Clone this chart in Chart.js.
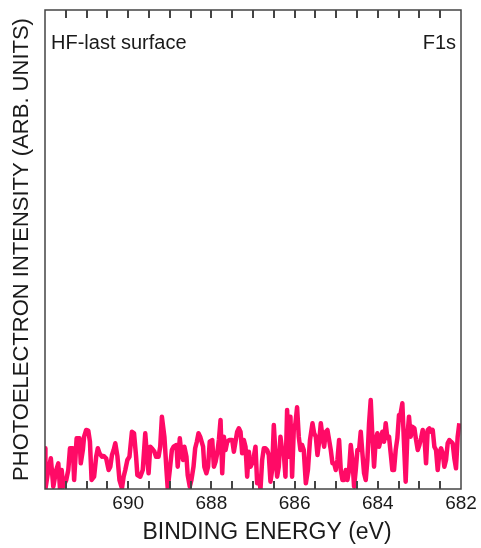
<!DOCTYPE html>
<html>
<head>
<meta charset="utf-8">
<script src="https://cdn.jsdelivr.net/npm/chart.js@4.4.1/dist/chart.umd.min.js"></script>
<style>
    html, body { margin: 0; padding: 0; background: #fff; }
    #wrap { width: 481px; height: 548px; }
</style>
</head>
<body>
<div id="wrap"><canvas id="xps-chart"></canvas></div>
<script>
// ===== Data (F1s region, HF-last surface) =====
const bindingEnergy = [
    692.00, 691.99, 691.92, 691.86, 691.80, 691.73, 691.68, 691.64, 691.60, 691.56,
    691.49, 691.44, 691.40, 691.33, 691.30, 691.24, 691.17, 691.14, 691.09, 691.06,
    691.01, 690.96, 690.92, 690.88, 690.82, 690.77, 690.73, 690.69, 690.63, 690.59,
    690.53, 690.47, 690.43, 690.39, 690.35, 690.31, 690.26, 690.21, 690.15, 690.11,
    690.07, 690.02, 689.97, 689.91, 689.86, 689.81, 689.78, 689.71, 689.65, 689.59,
    689.55, 689.51, 689.47, 689.43, 689.37, 689.33, 689.27, 689.23, 689.19, 689.13,
    689.08, 689.05, 689.00, 688.95, 688.91, 688.84, 688.81, 688.76, 688.73, 688.68,
    688.65, 688.60, 688.57, 688.52, 688.48, 688.43, 688.39, 688.35, 688.31, 688.27,
    688.20, 688.17, 688.12, 688.08, 688.04, 687.98, 687.94, 687.90, 687.86, 687.82,
    687.78, 687.74, 687.70, 687.66, 687.62, 687.57, 687.50, 687.46, 687.42, 687.38,
    687.34, 687.30, 687.26, 687.22, 687.18, 687.14, 687.10, 687.06, 687.02, 686.98,
    686.94, 686.90, 686.86, 686.82, 686.78, 686.74, 686.70, 686.66, 686.62, 686.58,
    686.54, 686.50, 686.46, 686.42, 686.38, 686.34, 686.30, 686.26, 686.22, 686.18,
    686.14, 686.10, 686.06, 686.02, 685.98, 685.94, 685.90, 685.86, 685.82, 685.78,
    685.73, 685.68, 685.63, 685.57, 685.53, 685.49, 685.45, 685.41, 685.37, 685.33,
    685.29, 685.25, 685.21, 685.17, 685.13, 685.09, 685.05, 685.01, 684.97, 684.93,
    684.89, 684.85, 684.81, 684.77, 684.73, 684.69, 684.65, 684.61, 684.57, 684.53,
    684.49, 684.45, 684.41, 684.37, 684.33, 684.29, 684.25, 684.21, 684.17, 684.13,
    684.09, 684.05, 684.01, 683.97, 683.93, 683.89, 683.85, 683.81, 683.77, 683.73,
    683.69, 683.65, 683.61, 683.57, 683.53, 683.49, 683.45, 683.41, 683.37, 683.33,
    683.29, 683.25, 683.21, 683.17, 683.12, 683.08, 683.04, 683.00, 682.96, 682.92,
    682.88, 682.84, 682.80, 682.76, 682.72, 682.68, 682.64, 682.60, 682.56, 682.52,
    682.48, 682.44, 682.40, 682.36, 682.32, 682.28, 682.24, 682.20, 682.16, 682.12,
    682.08, 682.04
];

// arb. units
const intensity = [
    40.7, 0, 19, 30.7, 2.3, 19, 25.7, 0.7, 19, 2.3,
    9, 19, 40.7, 40.7, 9, 50.7, 50.7, 25.7, 39, 52.3,
    59, 58.3, 47.3, 9, 12.3, 32.3, 40.7, 35.7, 32.3, 33,
    30.7, 19, 22.3, 34, 39, 45.7, 33, 9, 0.7, 12.3,
    19, 29, 32.3, 57.3, 55.7, 32.3, 14, 12.3, 19, 55.7,
    34, 15.7, 42.3, 40.7, 37.3, 32.3, 32.3, 42.3, 72.3, 52.3,
    19, 0.7, 19, 39, 42.3, 44, 22.3, 50.7, 39, 29,
    42.3, 32.3, 14, 2.3, 9, 22.3, 40.7, 47.3, 55.7, 52.3,
    42.3, 22.3, 15.7, 22.3, 47.3, 49, 22.3, 27.3, 35.7, 49,
    69, 15.7, 52.3, 39, 47.3, 49, 49, 37.3, 47.3, 57.3,
    60.7, 57.3, 35.7, 49, 42.3, 12.3, 37.3, 22.3, 25.7, 32.3,
    42.3, 5.7, 12.3, 0, 29, 40.7, 40.7, 39, 34, 7.3,
    19, 64, 35.7, 12.3, 22.3, 52.3, 39, 35.7, 12.3, 79,
    32.3, 72.3, 12.3, 59, 65.7, 81.7, 52.3, 39, 44, 39,
    5.7, 19, 49, 65.7, 55.7, 52.3, 34, 47.3, 65.7, 52.3,
    42.3, 57.3, 59, 49, 39, 25.7, 25.7, 19, 29, 49,
    19, 9, 9, 19, 9, 19, 44, 29, 2.3, 19,
    39, 39, 57.3, 35.7, 15.7, 9, 29, 65.7, 89, 52.3,
    22.3, 49, 55.7, 42.3, 49, 57.3, 47.3, 65.7, 50.7, 52.3,
    35.7, 19, 19, 39, 50.7, 74, 75.7, 85.7, 45.7, 7.3,
    52.3, 72.3, 52.3, 62.3, 60.7, 49, 39, 44, 50.7, 59,
    52.3, 25.7, 59, 60.7, 57.3, 59, 42.3, 39, 19, 35.7,
    40.7, 35.7, 22.3, 29, 45.7, 49, 47.3, 45.7, 30.7, 20.7,
    52.3, 65.7
];

const labelledEnergies = [690, 688, 686, 684, 682];
const cornerLabels = { left: 'HF-last surface', right: 'F1s' };
const xTitle = 'BINDING ENERGY (eV)';

const FONT = 'Liberation Sans, Arial, Helvetica, sans-serif';
const FRAME_COLOR = '#444444';
const TEXT_COLOR = '#1a1a1a';
const TICK_STEP = 0.5;

// inward tick marks every 0.5 eV on bottom and top edges
const tickPlugin = {
    id: 'innerTicks',
    afterDatasetsDraw(chart) {
        const { ctx, chartArea: a } = chart;
        const xs = chart.scales.x;
        ctx.save();
        ctx.globalAlpha = 1;
        ctx.globalCompositeOperation = 'source-over';
        ctx.setTransform(1, 0, 0, 1, 0, 0);
        ctx.fillStyle = FRAME_COLOR;
        xs.ticks.forEach((t, i) => {
            const px = Math.round(xs.getPixelForTick(i));
            if (px <= a.left + 2 || px >= a.right - 2) return;
            ctx.fillRect(px - 1, Math.round(a.bottom) - 8, 2, 8);
            ctx.fillRect(px - 1, Math.round(a.top), 2, 8);
        });
        ctx.restore();
    }
};

// frame, corner annotations, x title
const framePlugin = {
    id: 'frame',
    afterDraw(chart) {
        const { ctx, chartArea: a } = chart;
        ctx.save();
        ctx.strokeStyle = FRAME_COLOR;
        ctx.lineWidth = 1.5;
        ctx.strokeRect(a.left, a.top, a.right - a.left, a.bottom - a.top);

        ctx.fillStyle = TEXT_COLOR;
        ctx.font = `20px ${FONT}`;
        ctx.textBaseline = 'middle';
        ctx.textAlign = 'left';
        ctx.fillText(cornerLabels.left, a.left + 6, a.top + 33);
        ctx.textAlign = 'right';
        ctx.fillText(cornerLabels.right, a.right - 5, a.top + 33);

        ctx.font = `23px ${FONT}`;
        ctx.textAlign = 'center';
        ctx.fillText(xTitle, (a.left + a.right) / 2 + 14, a.bottom + 44);
        ctx.restore();
    }
};

new Chart(document.getElementById('xps-chart').getContext('2d'), {
    type: 'line',
    data: {
        datasets: [{
            label: 'F1s',
            data: bindingEnergy.map((e, i) => ({ x: e, y: intensity[i] })),
            borderColor: '#ff0a66',
            borderWidth: 4.5,
            borderJoinStyle: 'round',
            pointRadius: 0,
            tension: 0,
            fill: false
        }]
    },
    options: {
        responsive: true,
        maintainAspectRatio: false,
        animation: false,
        layout: { padding: { top: 10, right: 20, left: 0, bottom: 0 } },
        plugins: {
            legend: { display: false },
            tooltip: { enabled: false }
        },
        scales: {
            x: {
                type: 'linear',
                reverse: true,
                min: 682,
                max: 692,
                afterFit: s => { s.height = 59; },
                grid: { display: false, drawTicks: false },
                border: { display: false },
                ticks: {
                    stepSize: TICK_STEP,
                    autoSkip: false,
                    maxRotation: 0,
                    padding: 3,
                    color: TEXT_COLOR,
                    font: { family: FONT, size: 19 },
                    callback: v => labelledEnergies.includes(v) ? String(v) : ''
                },
                title: { display: false }
            },
            y: {
                min: 0,
                max: 479,
                afterFit: s => { s.width = 45; },
                grid: { display: false, drawTicks: false },
                border: { display: false },
                ticks: { display: false },
                title: {
                    display: true,
                    text: 'PHOTOELECTRON INTENSITY (ARB. UNITS)',
                    color: TEXT_COLOR,
                    font: { family: FONT, size: 22 },
                    padding: { top: 9, bottom: 0 }
                }
            }
        }
    },
    plugins: [tickPlugin, framePlugin]
});
</script>
</body>
</html>
